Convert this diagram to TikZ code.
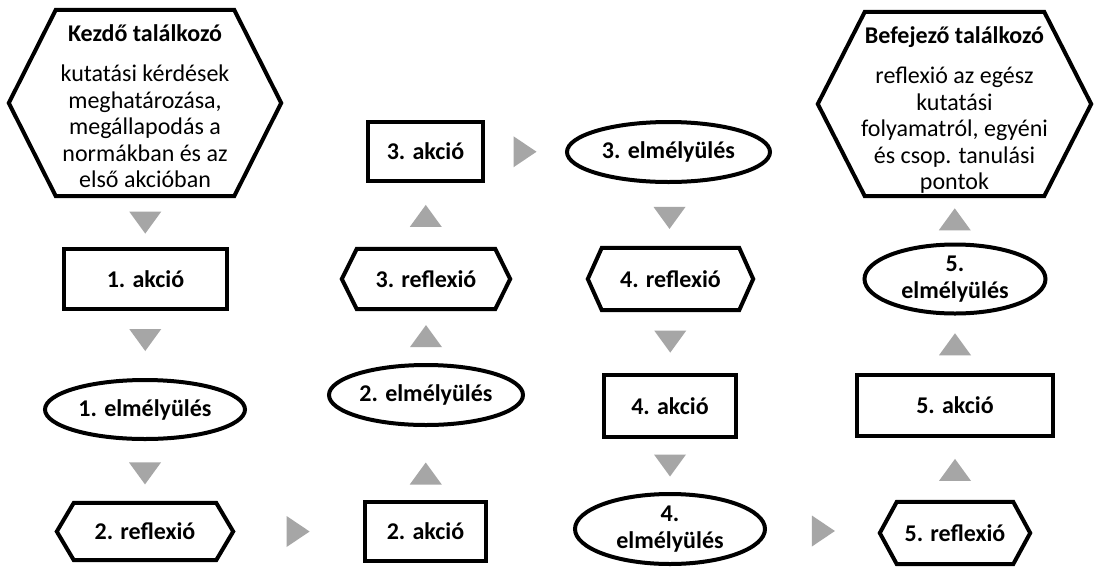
\documentclass[tikz,border=0pt]{standalone}
\usepackage{fontspec}
\setmainfont{Carlito}
\usetikzlibrary{shapes.geometric,calc}
\definecolor{arrowgray}{RGB}{166,166,166}
\tikzset{
  outline/.style={draw=black, line width=4pt},
  base/.style={inner sep=0pt, font=\fontsize{24}{26.6}\selectfont\bfseries, align=center, text=black},
  actbox/.style={base, outline, rectangle},
  deepbox/.style={base, outline, ellipse},
  refbox/.style={base, rectangle},
  meetbox/.style={inner sep=0pt, rectangle},
  meettext/.style={inner sep=0pt, font=\fontsize{24}{26.6}\selectfont, align=center, anchor=north},
  pointer/.style={fill=arrowgray},
}
% hexagonal frame around a node: node name, horizontal indent of the top/bottom edges
\newcommand\hexline[2]{\draw[outline] ([xshift=#2pt]#1.north west) -- ([xshift=-#2pt]#1.north east) -- (#1.east) -- ([xshift=-#2pt]#1.south east) -- ([xshift=#2pt]#1.south west) -- (#1.west) -- cycle;}
% grey pointers between two nodes (last argument: vertical offset)
\newcommand\tridown[3]{\fill[pointer, shift={($(#1.south)!0.5!(#2.north)+(0,#3)$)}] (-16,-11) -- (16,-11) -- (0,11) -- cycle;}
\newcommand\triup[3]{\fill[pointer, shift={($(#1.north)!0.5!(#2.south)+(0,#3)$)}] (-16,11) -- (16,11) -- (0,-11) -- cycle;}
\newcommand\triright[2]{\fill[pointer, shift={($(#1.east)!0.5!(#2.west)$)}] (-11.5,-15.5) -- (-11.5,15.5) -- (11.5,0) -- cycle;}
\begin{document}
\begin{tikzpicture}[x=1pt, y=-1pt]
\fill[white] (0,0) rectangle (1095,574);
\useasboundingbox (0,0) rectangle (1095,574);

% column 1
\node[meetbox, minimum width=272pt, minimum height=186pt] (k0) at (145,103) {};
\hexline{k0}{47}
\node[meettext] (k0t) at ([yshift=-15pt]k0.north) {\textbf{Kezdő találkozó}\\[13pt] kutatási kérdések\\ meghatározása,\\ megállapodás a\\ normákban és az\\ első akcióban};
\node[actbox, minimum width=163pt, minimum height=60pt] (a1) at (145.5,279) {1. akció};
\node[deepbox, minimum width=200pt, minimum height=59pt] (e1) at (145,409.5) {1. elmélyülés};
\node[refbox, minimum width=176pt, minimum height=57pt] (r2) at (145,531.5) {2. reflexió};
\hexline{r2}{17}

% column 2
\node[actbox, minimum width=121pt, minimum height=59pt] (a2) at (425.5,531.5) {2. akció};
\node[deepbox, minimum width=194pt, minimum height=60pt] (e2) at (426,395) {2. elmélyülés};
\node[refbox, minimum width=168pt, minimum height=60pt] (r3) at (426,279) {3. reflexió};
\hexline{r3}{15}
\node[actbox, minimum width=115pt, minimum height=59pt] (a3) at (425.5,151.5) {3. akció};

% column 3
\node[deepbox, minimum width=203pt, minimum height=60pt] (e3) at (668.5,152) {3. elmélyülés};
\node[refbox, minimum width=165pt, minimum height=62pt] (r4) at (670.5,279) {4. reflexió};
\hexline{r4}{14}
\node[actbox, minimum width=132pt, minimum height=62pt] (a4) at (670,406) {4. akció};
\node[deepbox, minimum width=190pt, minimum height=70pt] (e4) at (670,529) {4.\\elmélyülés};

% column 4
\node[refbox, minimum width=150pt, minimum height=62pt] (r5) at (955,533) {5. reflexió};
\hexline{r5}{17}
\node[actbox, minimum width=196pt, minimum height=61pt] (a5) at (955,405.5) {5. akció};
\node[deepbox, minimum width=181pt, minimum height=69pt] (e5) at (955,279) {5.\\elmélyülés};
\node[meetbox, minimum width=273pt, minimum height=184pt] (k6) at (954.5,104) {};
\hexline{k6}{47}
\node[meettext] (k6t) at ([yshift=-15pt]k6.north) {\textbf{Befejező találkozó}\\[13pt] reflexió az egész\\ kutatási\\ folyamatról, egyéni\\ és csop. tanulási\\ pontok};

% pointers
\tridown{k0}{a1}{1}
\tridown{a1}{e1}{-4.5}
\tridown{e1}{r2}{1.5}
\triright{r2}{a2}
\triup{a2}{e2}{10}
\triup{e2}{r3}{0}
\triup{r3}{a3}{0}
\triright{a3}{e3}
\tridown{e3}{r4}{2}
\tridown{r4}{a4}{0}
\tridown{a4}{e4}{0}
\triright{e4}{r5}
\triup{r5}{a5}{0}
\triup{a5}{e5}{0}
\triup{e5}{k6}{0}
\end{tikzpicture}
\end{document}
